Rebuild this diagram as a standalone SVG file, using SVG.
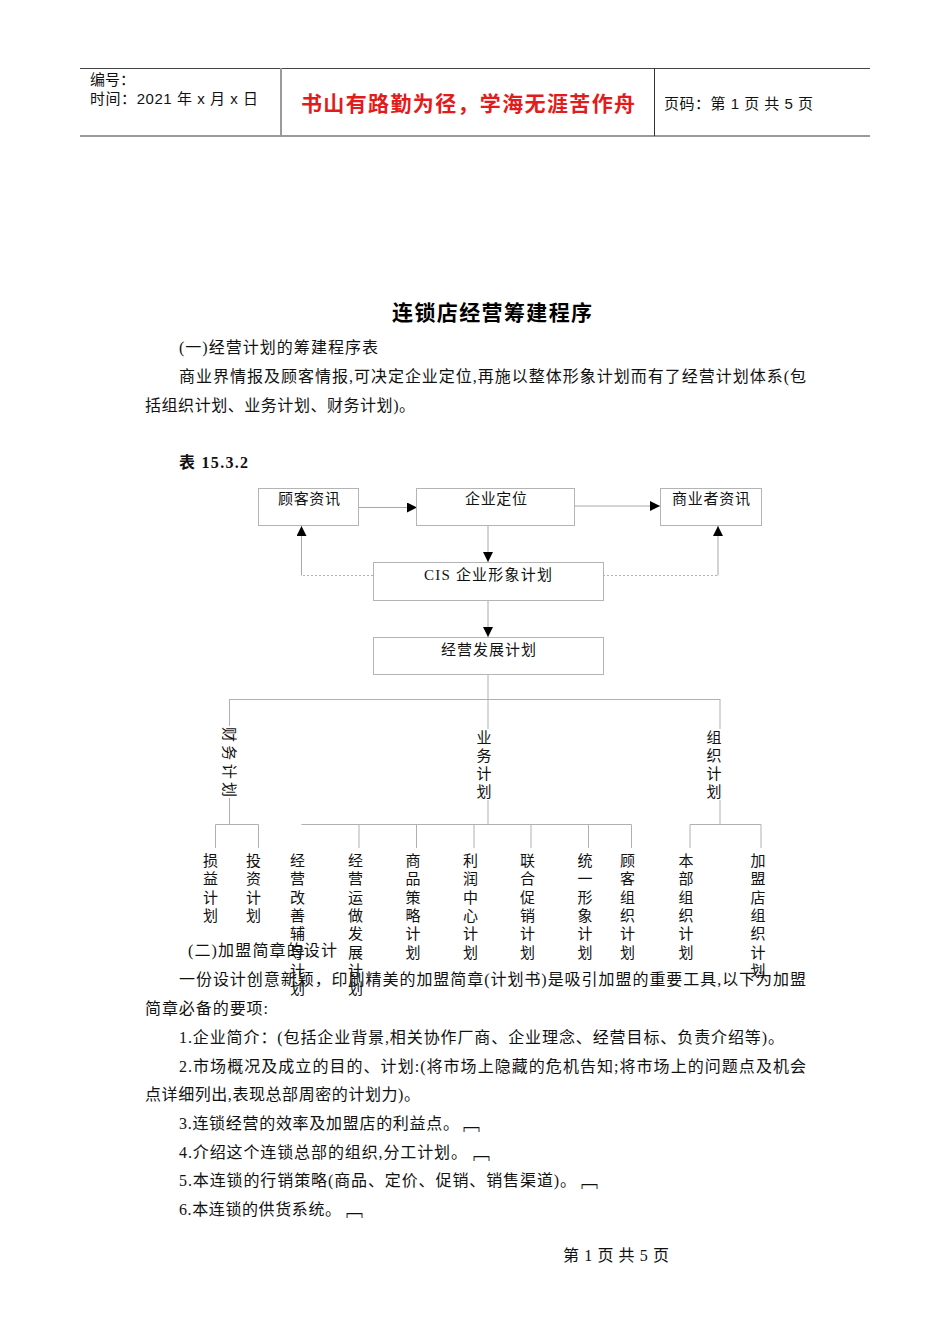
<svg xmlns="http://www.w3.org/2000/svg" width="950" height="1344" viewBox="0 0 950 1344">
<defs>
<marker id="ah" markerUnits="userSpaceOnUse" markerWidth="11" markerHeight="11" refX="10" refY="5" orient="auto">
<path d="M0,0 L10,5 L0,10 z" fill="#000"/>
</marker>
<style>
.hd{font-family:"Liberation Sans","Noto Sans CJK SC",sans-serif;font-size:15px;fill:#111}
.red{font-family:"Noto Sans CJK SC",sans-serif;font-size:21px;font-weight:bold;fill:#e31b1b}
.ttl{font-family:"Noto Sans CJK SC",sans-serif;font-size:21px;font-weight:bold;fill:#000}
.bd{font-family:"Liberation Serif","Noto Sans CJK SC",serif;font-size:16px;fill:#111}
.bx{fill:#fff;stroke:#b4b4b4;stroke-width:1}
.lb{font-family:"Liberation Serif","Noto Sans CJK SC",serif;font-size:15px;fill:#111}
.vt{font-family:"Liberation Serif","Noto Sans CJK SC",serif;font-size:15px;fill:#111;text-anchor:middle}
.ln{fill:none;stroke:#b0b0b0;stroke-width:1}
.dl{fill:none;stroke:#b0b0b0;stroke-width:1;stroke-dasharray:2,2}
.ar{fill:none;stroke:#a8a8a8;stroke-width:1;marker-end:url(#ah)}
.br{font-family:"Noto Sans CJK SC",sans-serif;font-size:17px;fill:#111}
</style>
</defs>
<rect width="950" height="1344" fill="#fff"/>

<g id="header">
<line x1="80" y1="68.5" x2="870" y2="68.5" stroke="#444" stroke-width="1"/>
<line x1="80" y1="136" x2="870" y2="136" stroke="#9a9a9a" stroke-width="2"/>
<line x1="281" y1="68" x2="281" y2="136" stroke="#9a9a9a" stroke-width="2"/>
<line x1="654.5" y1="68" x2="654.5" y2="136" stroke="#333" stroke-width="1"/>
<text class="hd" x="90" y="85">编号：</text>
<text class="hd" x="90" y="104" textLength="168">时间：2021 年 x 月 x 日</text>
<text class="red" x="301" y="111" textLength="334">书山有路勤为径，学海无涯苦作舟</text>
<text class="hd" x="664" y="109" textLength="149">页码：第 1 页  共 5 页</text>
</g>

<g id="title">
<text class="ttl" x="392" y="320" textLength="200">连锁店经营筹建程序</text>
</g>

<g id="intro">
<text class="bd" x="179" y="353" textLength="199">(一)经营计划的筹建程序表</text>
<text class="bd" x="179" y="382" textLength="627">商业界情报及顾客情报,可决定企业定位,再施以整体形象计划而有了经营计划体系(包</text>
<text class="bd" x="145" y="411" textLength="270">括组织计划、业务计划、财务计划)。</text>
<text class="bd" x="179" y="468" textLength="69" font-weight="bold">表 15.3.2</text>
</g>

<g id="connectors">
<path class="ar" d="M359,507.5 H417"/>
<path class="ar" d="M575,506 H660"/>
<path class="ar" d="M488,526 V562"/>
<path class="ar" d="M488,601 V637"/>
<path class="dl" d="M373,575.5 H301.5"/>
<path class="ar" d="M301.5,575.5 V526"/>
<path class="dl" d="M603,575.5 H718"/>
<path class="ar" d="M718,575.5 V526"/>
<path class="ln" d="M488,674 V729 M488,800 V824.5"/>
<path class="ln" d="M229.5,699.5 H720"/>
<path class="ln" d="M229.5,699 V726 M229.5,798 V824.5"/>
<path class="ln" d="M720,699 V729 M720,800 V824.5"/>
<path class="ln" d="M215.5,824.5 H258.5 M215.5,824.5 V848 M258.5,824.5 V848"/>
<path class="ln" d="M301.5,824.5 H631.5 M359,824.5 V848 M416.5,824.5 V848 M474,824.5 V848 M531,824.5 V848 M588.5,824.5 V848 M631.5,824.5 V848"/>
<path class="ln" d="M690,824.5 H761 M690,824.5 V848 M761,824.5 V848"/>
</g>

<g id="n-guke">
<rect class="bx" x="258.5" y="488.5" width="100" height="37"/>
<text class="lb" x="278" y="504" textLength="62">顾客资讯</text>
</g>
<g id="n-qiye">
<rect class="bx" x="416.5" y="488.5" width="158" height="37"/>
<text class="lb" x="465" y="504" textLength="62">企业定位</text>
</g>
<g id="n-shangye">
<rect class="bx" x="660.5" y="488.5" width="101" height="37"/>
<text class="lb" x="672" y="504" textLength="78">商业者资讯</text>
</g>
<g id="n-cis">
<rect class="bx" x="373.5" y="562.5" width="230" height="38"/>
<text class="lb" x="424" y="580" textLength="128">CIS  企业形象计划</text>
</g>
<g id="n-jingying">
<rect class="bx" x="373.5" y="637.5" width="230" height="37"/>
<text class="lb" x="441" y="655" textLength="95">经营发展计划</text>
</g>

<g id="n-caiwu">
<text class="lb" transform="translate(229.5,762) rotate(90)" x="0" y="5.5" text-anchor="middle" textLength="70">财务计划</text>
</g>
<g id="n-yewu">
<text class="vt" x="484" y="742.5"><tspan x="484">业</tspan><tspan x="484" dy="18.2">务</tspan><tspan x="484" dy="18.2">计</tspan><tspan x="484" dy="18.2">划</tspan></text>
</g>
<g id="n-zuzhi">
<text class="vt" x="714" y="742.5"><tspan x="714">组</tspan><tspan x="714" dy="18.2">织</tspan><tspan x="714" dy="18.2">计</tspan><tspan x="714" dy="18.2">划</tspan></text>
</g>

<g id="n-sunyi"><text class="vt" y="866"><tspan x="210.5">损</tspan><tspan x="210.5" dy="18.3">益</tspan><tspan x="210.5" dy="18.3">计</tspan><tspan x="210.5" dy="18.3">划</tspan></text></g>
<g id="n-touzi"><text class="vt" y="866"><tspan x="253.5">投</tspan><tspan x="253.5" dy="18.3">资</tspan><tspan x="253.5" dy="18.3">计</tspan><tspan x="253.5" dy="18.3">划</tspan></text></g>
<g id="n-gaishan"><text class="vt" y="866"><tspan x="297.5">经</tspan><tspan x="297.5" dy="18.3">营</tspan><tspan x="297.5" dy="18.3">改</tspan><tspan x="297.5" dy="18.3">善</tspan><tspan x="297.5" dy="18.3">辅</tspan><tspan x="297.5" dy="18.3">导</tspan><tspan x="297.5" dy="18.3">计</tspan><tspan x="297.5" dy="18.3">划</tspan></text></g>
<g id="n-yunzuo"><text class="vt" y="866"><tspan x="355.5">经</tspan><tspan x="355.5" dy="18.3">营</tspan><tspan x="355.5" dy="18.3">运</tspan><tspan x="355.5" dy="18.3">做</tspan><tspan x="355.5" dy="18.3">发</tspan><tspan x="355.5" dy="18.3">展</tspan><tspan x="355.5" dy="18.3">计</tspan><tspan x="355.5" dy="18.3">划</tspan></text></g>
<g id="n-shangpin"><text class="vt" y="866"><tspan x="413">商</tspan><tspan x="413" dy="18.3">品</tspan><tspan x="413" dy="18.3">策</tspan><tspan x="413" dy="18.3">略</tspan><tspan x="413" dy="18.3">计</tspan><tspan x="413" dy="18.3">划</tspan></text></g>
<g id="n-lirun"><text class="vt" y="866"><tspan x="470.5">利</tspan><tspan x="470.5" dy="18.3">润</tspan><tspan x="470.5" dy="18.3">中</tspan><tspan x="470.5" dy="18.3">心</tspan><tspan x="470.5" dy="18.3">计</tspan><tspan x="470.5" dy="18.3">划</tspan></text></g>
<g id="n-lianhe"><text class="vt" y="866"><tspan x="527.5">联</tspan><tspan x="527.5" dy="18.3">合</tspan><tspan x="527.5" dy="18.3">促</tspan><tspan x="527.5" dy="18.3">销</tspan><tspan x="527.5" dy="18.3">计</tspan><tspan x="527.5" dy="18.3">划</tspan></text></g>
<g id="n-tongyi"><text class="vt" y="866"><tspan x="585">统</tspan><tspan x="585" dy="18.3">一</tspan><tspan x="585" dy="18.3">形</tspan><tspan x="585" dy="18.3">象</tspan><tspan x="585" dy="18.3">计</tspan><tspan x="585" dy="18.3">划</tspan></text></g>
<g id="n-guke-zz"><text class="vt" y="866"><tspan x="627.5">顾</tspan><tspan x="627.5" dy="18.3">客</tspan><tspan x="627.5" dy="18.3">组</tspan><tspan x="627.5" dy="18.3">织</tspan><tspan x="627.5" dy="18.3">计</tspan><tspan x="627.5" dy="18.3">划</tspan></text></g>
<g id="n-benbu"><text class="vt" y="866"><tspan x="686">本</tspan><tspan x="686" dy="18.3">部</tspan><tspan x="686" dy="18.3">组</tspan><tspan x="686" dy="18.3">织</tspan><tspan x="686" dy="18.3">计</tspan><tspan x="686" dy="18.3">划</tspan></text></g>
<g id="n-jiameng"><text class="vt" y="866"><tspan x="758">加</tspan><tspan x="758" dy="18.3">盟</tspan><tspan x="758" dy="18.3">店</tspan><tspan x="758" dy="18.3">组</tspan><tspan x="758" dy="18.3">织</tspan><tspan x="758" dy="18.3">计</tspan><tspan x="758" dy="18.3">划</tspan></text></g>

<g id="body2">
<text class="bd" x="188" y="956" textLength="149">(二)加盟简章的设计</text>
<text class="bd" x="179" y="985" textLength="627">一份设计创意新颖，印刷精美的加盟简章(计划书)是吸引加盟的重要工具,以下为加盟</text>
<text class="bd" x="145" y="1014" textLength="123">简章必备的要项:</text>
<text class="bd" x="179" y="1043" textLength="605">1.企业简介：(包括企业背景,相关协作厂商、企业理念、经营目标、负责介绍等)。</text>
<text class="bd" x="179" y="1072" textLength="627">2.市场概况及成立的目的、计划:(将市场上隐藏的危机告知;将市场上的问题点及机会</text>
<text class="bd" x="145" y="1100" textLength="275">点详细列出,表现总部周密的计划力)。</text>
<text class="bd" x="179" y="1129" textLength="280">3.连锁经营的效率及加盟店的利益点。</text>
<text class="br" x="463" y="1130">﹇</text>
<text class="bd" x="179" y="1158" textLength="288">4.介绍这个连锁总部的组织,分工计划。</text>
<text class="br" x="473" y="1159">﹇</text>
<text class="bd" x="179" y="1186" textLength="397">5.本连锁的行销策略(商品、定价、促销、销售渠道)。</text>
<text class="br" x="581" y="1187">﹇</text>
<text class="bd" x="179" y="1215" textLength="162">6.本连锁的供货系统。</text>
<text class="br" x="346" y="1216">﹇</text>
</g>

<g id="footer">
<text class="bd" x="563" y="1261" font-size="14" textLength="106">第 1 页 共 5 页</text>
</g>
</svg>
